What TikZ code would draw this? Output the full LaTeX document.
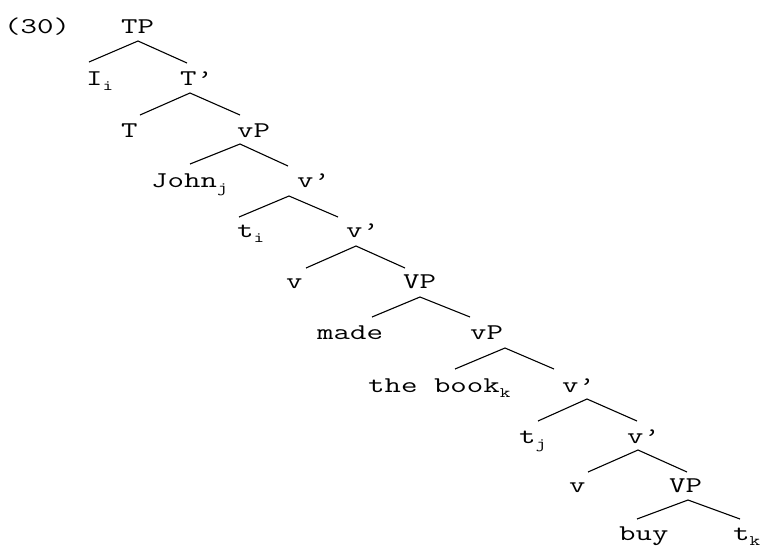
\documentclass[tikz,border=0pt]{standalone}
\usepackage{fontspec}
\newfontfamily\treefont[FakeStretch=1.42]{Latin Modern Mono}
\newcommand{\idx}[1]{\raisebox{-5pt}{\fontsize{14.5}{14.5}\selectfont #1}}
\tikzset{
  lbl/.style={anchor=base west, inner sep=0pt, font=\treefont\fontsize{22.5}{22.5}\selectfont},
  branch/.style={line width=1.1pt}
}
\begin{document}
\begin{tikzpicture}[x=1pt,y=-1pt]
    \useasboundingbox (0,0) rectangle (762,547);

    % Example number
    \node[lbl] (num) at (4,33) {(30)};

    % Labels, level by level
    \node[lbl] (TP) at (121,33) {TP};
    \node[lbl] (Ii) at (86,85) {I\idx{i}};
    \node[lbl] (Tbar) at (180,85) {T’};
    \node[lbl] (T) at (121,137) {T};
    \node[lbl] (vP1) at (237,137) {vP};
    \node[lbl] (John) at (151,187) {John\idx{j}};
    \node[lbl] (vbar1) at (297,187) {v’};
    \node[lbl] (ti) at (237,237) {t\idx{i}};
    \node[lbl] (vbar2) at (346,237) {v’};
    \node[lbl] (v1) at (286,288) {v};
    \node[lbl] (VP1) at (403,288) {VP};
    \node[lbl] (made) at (317,339) {made};
    \node[lbl] (vP2) at (470,339) {vP};
    \node[lbl] (book) at (368,392) {the book\idx{k}};
    \node[lbl] (vbar3) at (562,392) {v’};
    \node[lbl] (tj) at (519,443) {t\idx{j}};
    \node[lbl] (vbar4) at (627,443) {v’};
    \node[lbl] (v2) at (569,492) {v};
    \node[lbl] (VP2) at (669,492) {VP};
    \node[lbl] (buy) at (619,540) {buy};
    \node[lbl] (tk) at (733,540) {t\idx{k}};

    % Branch points and branch ends
    \coordinate (TP-b) at (138,41);   \coordinate (Ii-t) at (89,62);     \coordinate (Tbar-t) at (187,63);
    \coordinate (Tbar-b) at (190,93); \coordinate (T-t) at (140,115);    \coordinate (vP1-t) at (240,115);
    \coordinate (vP1-b) at (240,144); \coordinate (John-t) at (190,164); \coordinate (vbar1-t) at (288,166);
    \coordinate (vbar1-b) at (289,196); \coordinate (ti-t) at (239,217); \coordinate (vbar2-t) at (338,217);
    \coordinate (vbar2-b) at (356,246); \coordinate (v1-t) at (306,268); \coordinate (VP1-t) at (405,268);
    \coordinate (VP1-b) at (420,297); \coordinate (made-t) at (372,317); \coordinate (vP2-t) at (470,317);
    \coordinate (vP2-b) at (505,348); \coordinate (book-t) at (455,369); \coordinate (vbar3-t) at (554,369);
    \coordinate (vbar3-b) at (587,399); \coordinate (tj-t) at (538,421); \coordinate (vbar4-t) at (637,421);
    \coordinate (vbar4-b) at (638,450); \coordinate (v2-t) at (588,472); \coordinate (VP2-t) at (687,472);
    \coordinate (VP2-b) at (688,500); \coordinate (buy-t) at (637,519); \coordinate (tk-t) at (740,519);

    % Branches
    \foreach \p/\l/\r in {TP/Ii/Tbar, Tbar/T/vP1, vP1/John/vbar1, vbar1/ti/vbar2,
        vbar2/v1/VP1, VP1/made/vP2, vP2/book/vbar3, vbar3/tj/vbar4, vbar4/v2/VP2, VP2/buy/tk}
        \draw[branch] (\l-t) -- (\p-b) -- (\r-t);
\end{tikzpicture}
\end{document}
